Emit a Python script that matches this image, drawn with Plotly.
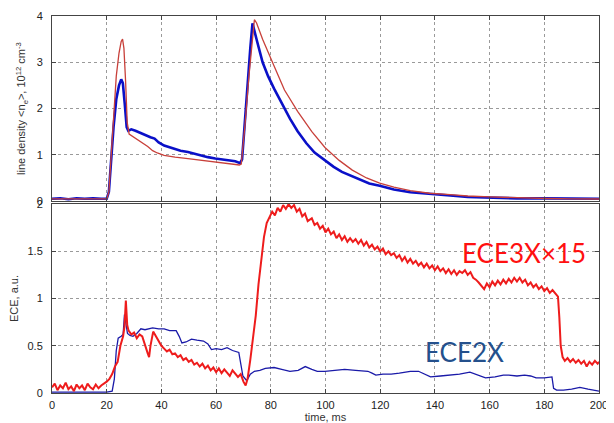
import plotly.graph_objects as go

# ---------------- data ----------------
ne_red_t = [0, 5, 10, 15, 20, 20.8, 21.5, 22.5, 23.5, 24.5, 25.3, 25.8, 26.3, 26.9, 27.5, 28.2,
            30, 32.5, 35, 36.8, 38.5, 41, 45, 49.7, 55, 59.7, 64, 68.5, 69.2, 70.5, 72, 73.2, 74,
            74.8, 77, 81.2, 85, 89.8, 95, 99.8, 105, 109.8, 115, 119.8, 125, 131, 138, 145.6, 152,
            160, 170, 181, 190, 200]
ne_red = [0.05, 0.05, 0.05, 0.05, 0.05, 0.2, 0.9, 1.9, 2.7, 3.2, 3.45, 3.5, 3.3, 2.6, 1.7, 1.45,
          1.38, 1.27, 1.18, 1.09, 1.04, 0.99, 0.95, 0.92, 0.88, 0.85, 0.82, 0.78, 0.8, 1.6, 2.7, 3.5,
          3.92, 3.85, 3.5, 2.92, 2.4, 1.94, 1.5, 1.16, 0.88, 0.67, 0.5, 0.39, 0.3, 0.225, 0.17, 0.14,
          0.11, 0.09, 0.07, 0.056, 0.05, 0.045]

ne_blue_t = [0, 3, 6, 9, 12, 15, 18, 20, 20.8, 21.5, 22.5, 23.5, 24.5, 25.3, 25.9, 26.6, 27.3,
             27.9, 29, 30.5, 32, 34, 36, 37.5, 39, 41, 43, 45, 47, 49.7, 52, 55, 57, 59.7, 62, 65,
             67, 68.8, 69.5, 70.5, 71.5, 72.5, 73.3, 74, 75, 77, 79, 81.2, 84, 87, 89.8, 93, 96,
             99.8, 103, 106, 109.8, 113, 116, 119.8, 125, 131, 138, 145.6, 152, 160, 170, 180, 190,
             200]
ne_blue = [0.05, 0.06, 0.04, 0.06, 0.05, 0.06, 0.05, 0.05, 0.2, 0.8, 1.6, 2.2, 2.5, 2.63, 2.55,
           2.1, 1.6, 1.52, 1.55, 1.52, 1.48, 1.42, 1.38, 1.35, 1.27, 1.2, 1.16, 1.12, 1.09, 1.06,
           1.02, 0.98, 0.95, 0.92, 0.9, 0.88, 0.86, 0.82, 0.9, 1.7, 2.6, 3.3, 3.84, 3.7, 3.45, 3.0,
           2.7, 2.43, 2.1, 1.78, 1.51, 1.25, 1.05, 0.88, 0.74, 0.63, 0.53, 0.45, 0.38, 0.33, 0.25,
           0.19, 0.15, 0.12, 0.09, 0.07, 0.06, 0.06, 0.05, 0.05]

ece3_t = [0, 1, 2, 3, 4, 5, 6, 7, 8, 9, 10, 11, 12, 13, 14, 15, 16, 17, 18, 19, 20,
          21, 22, 23, 24, 25, 26, 26.5, 27, 27.5, 28, 29, 30, 31, 32, 33, 34, 35, 35.5, 36, 37,
          38, 39, 40, 41, 42, 43, 44, 45, 46, 47, 48, 49, 50, 51, 52, 53, 54, 55, 56, 57, 58, 59,
          60, 61, 62, 63, 64, 65, 66, 67, 68, 69, 70, 70.8, 71.5, 72.5, 73.5, 74.5, 75.5, 76.5,
          77.5, 78.5, 79.5, 80.5, 81.5, 82.5, 83.5, 84.5, 85.5, 86.5, 87.5, 88.5, 89.5, 90.5,
          91.5, 92.5, 93.5, 95, 96, 97, 98, 99, 100, 101, 102, 103, 104, 105, 106, 107, 108, 109,
          110, 111, 112, 113, 114, 115, 116, 117, 118, 119, 120, 121, 122, 123, 124, 125, 126,
          127, 128, 129, 130, 131, 132, 133, 134, 135, 136, 137, 138, 139, 140, 141, 142, 143,
          144, 145, 146, 147, 148, 149, 150, 151, 152, 153, 154, 155, 156, 157, 158, 159, 160,
          161, 162, 163, 164, 165, 166, 167, 168, 169, 170, 171, 172, 173, 174, 175, 176, 177,
          178, 179, 180, 181, 182, 183, 184, 185, 185.5, 186, 186.7, 187.5, 188.5, 189.5, 190.5,
          191.5, 192.5, 193.5, 194.5, 195.5, 196.5, 197.5, 198.5, 199.5, 200]
ece3 = [0.06, 0.1, 0.03, 0.08, 0.05, 0.11, 0.04, 0.07, 0.02, 0.09, 0.05, 0.08, 0.03, 0.1, 0.06,
        0.04, 0.09, 0.05, 0.08, 0.1, 0.12,
        0.15, 0.2, 0.28, 0.33, 0.5, 0.6, 0.7, 0.98, 0.72, 0.66, 0.62, 0.64, 0.58, 0.62, 0.6, 0.5,
        0.42, 0.38, 0.5, 0.65, 0.6, 0.55, 0.5, 0.47, 0.44, 0.46, 0.41, 0.42, 0.38, 0.4, 0.35,
        0.37, 0.33, 0.35, 0.3, 0.32, 0.28, 0.31, 0.26, 0.29, 0.24, 0.27, 0.22, 0.26, 0.21, 0.25,
        0.22, 0.18, 0.24, 0.2, 0.17, 0.2, 0.12, 0.08, 0.15, 0.35, 0.6, 0.82, 1.15, 1.42, 1.65,
        1.8, 1.86, 1.92, 1.88, 1.96, 1.92, 1.99, 1.95, 2.0, 1.96, 1.99, 1.92, 1.95, 1.87, 1.9,
        1.82, 1.85, 1.78, 1.8, 1.74, 1.77, 1.7, 1.74, 1.68, 1.71, 1.64, 1.68, 1.62, 1.66, 1.6,
        1.64, 1.6, 1.63, 1.58, 1.62, 1.56, 1.6, 1.54, 1.57, 1.52, 1.55, 1.5, 1.53, 1.47, 1.5,
        1.46, 1.48, 1.43, 1.46, 1.4, 1.44, 1.38, 1.42, 1.37, 1.4, 1.35, 1.38, 1.33, 1.37, 1.32,
        1.35, 1.3, 1.34, 1.29, 1.32, 1.27, 1.31, 1.26, 1.3, 1.25, 1.29, 1.27, 1.3, 1.25, 1.28,
        1.22, 1.2, 1.17, 1.14, 1.1, 1.16, 1.12, 1.18, 1.14, 1.19, 1.15, 1.2, 1.16, 1.21, 1.17,
        1.22, 1.18, 1.22, 1.17, 1.2, 1.14, 1.17, 1.12, 1.15, 1.1, 1.13, 1.08, 1.11, 1.06, 1.09,
        1.05, 1.02, 0.8, 0.5, 0.38, 0.34, 0.37, 0.33, 0.36, 0.32, 0.35, 0.31, 0.34, 0.28, 0.33,
        0.3, 0.34, 0.31, 0.33]

ece2_t = [0, 5, 10, 15, 20, 22, 22.8, 23.5, 24.2, 25.3, 26, 26.5, 27, 27.6, 28.5, 29.6, 31, 32.5,
          34, 36.8, 39, 41, 43, 45.4, 46.5, 47.5, 49, 51, 53, 55.4, 57, 58.3, 60, 62, 64, 66,
          68.3, 69.2, 69.8, 71.2, 72.5, 74, 76, 78, 81.2, 84, 87, 90, 92.6, 95, 97, 99.8, 103,
          107, 111, 115.5, 117, 118.4, 121, 124, 127, 131, 134, 136, 138.4, 142, 145.6, 149,
          152.8, 155, 158.5, 162, 165, 167, 170, 172.8, 175, 177, 180, 182.8, 183.4, 184.5, 187,
          190, 193, 196, 200]
ece2 = [0.01, 0.01, 0.01, 0.01, 0.01, 0.02, 0.15, 0.45, 0.58, 0.6, 0.62, 0.83, 0.75, 0.63, 0.61,
        0.6, 0.63, 0.68, 0.67, 0.69, 0.68, 0.68, 0.66, 0.66, 0.6, 0.53, 0.54, 0.57, 0.56, 0.55,
        0.52, 0.46, 0.47, 0.46, 0.48, 0.45, 0.43, 0.3, 0.18, 0.13, 0.2, 0.23, 0.24, 0.26, 0.27,
        0.25, 0.23, 0.24, 0.28, 0.25, 0.23, 0.23, 0.24, 0.25, 0.24, 0.23, 0.21, 0.19, 0.2, 0.2,
        0.21, 0.23, 0.23, 0.2, 0.17, 0.18, 0.19, 0.2, 0.22, 0.2, 0.16, 0.17, 0.19, 0.19, 0.18,
        0.19, 0.18, 0.16, 0.16, 0.17, 0.05, 0.03, 0.03, 0.04, 0.06, 0.04, 0.02]

x_ticks = [0, 20, 40, 60, 80, 100, 120, 140, 160, 180, 200]
top_ticks = [0, 1, 2, 3, 4]
bot_ticks = [0, 0.5, 1, 1.5, 2]
bot_tick_text = ["0", "0.5", "1", "1.5", "2"]

# ---------------- figure ----------------
fig = go.Figure()
fig.add_trace(go.Scatter(x=ne_blue_t, y=ne_blue, mode="lines", xaxis="x", yaxis="y",
                         line=dict(color="#0a10c8", width=2.6)))
fig.add_trace(go.Scatter(x=ne_red_t, y=ne_red, mode="lines", xaxis="x", yaxis="y",
                         line=dict(color="#c8403a", width=1.3)))
fig.add_trace(go.Scatter(x=ece2_t, y=ece2, mode="lines", xaxis="x2", yaxis="y2",
                         line=dict(color="#1a1aa8", width=1.3)))
fig.add_trace(go.Scatter(x=ece3_t, y=ece3, mode="lines", xaxis="x2", yaxis="y2",
                         line=dict(color="#ee1c1c", width=2.0)))

axis_common = dict(showline=True, linecolor="#444", linewidth=1, mirror="ticks",
                   ticks="inside", ticklen=4, tickcolor="#444",
                   showgrid=True, gridcolor="#9a9a9a", griddash="dot", gridwidth=1,
                   zeroline=False, tickfont=dict(family="Liberation Sans, Arial", size=11,
                                                 color="#222"))

# page body has an 8 px margin, so the figure is sized/offset to compensate
fig.update_layout(
    width=606, height=415,
    margin=dict(l=44, r=15, t=2, b=30),
    paper_bgcolor="white", plot_bgcolor="white",
    showlegend=False,
    xaxis=dict(domain=[0, 1], anchor="y", range=[0, 200], tickvals=x_ticks,
               showticklabels=False, **axis_common),
    yaxis=dict(domain=[0.509, 1], anchor="x", range=[0, 4], tickvals=top_ticks,
               ticklabelstandoff=6,
               title=dict(text="line density &lt;n<sub>e</sub>&gt;, 10<sup>12</sup> cm<sup>-3</sup>",
                          font=dict(family="Liberation Sans, Arial", size=11, color="#333"),
                          standoff=8),
               **axis_common),
    xaxis2=dict(domain=[0, 1], anchor="y2", range=[0, 200], tickvals=x_ticks,
                ticklabelstandoff=2,
                title=dict(text="time, ms", font=dict(family="Liberation Sans, Arial", size=11,
                                                       color="#333"), standoff=2),
                **axis_common),
    yaxis2=dict(domain=[0, 0.501], anchor="x2", range=[0, 2], tickvals=bot_ticks,
                ticktext=bot_tick_text, ticklabelstandoff=6,
                title=dict(text="ECE, a.u.", font=dict(family="Liberation Sans, Arial", size=11,
                                                        color="#333"), standoff=8),
                **axis_common),
    annotations=[
        dict(x=172.5, y=1.48, xref="x2", yref="y2", text="ECE3X×15", showarrow=False,
             font=dict(family="Lato, Open Sans", size=26, color="#ff1010")),
        dict(x=150.9, y=0.43, xref="x2", yref="y2", text="ECE2X", showarrow=False,
             font=dict(family="Lato, Open Sans", size=26, color="#24508c")),
    ],
)

fig.write_html("out.html")
